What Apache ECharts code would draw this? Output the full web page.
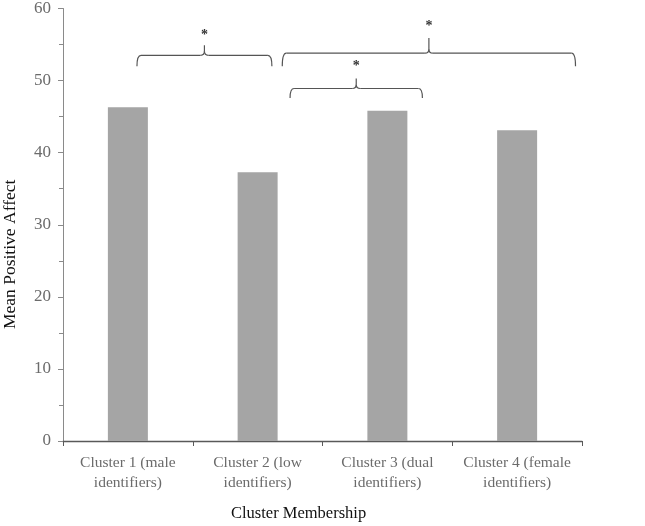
<!DOCTYPE html>
<html><head><meta charset="utf-8">
<script src="https://cdn.jsdelivr.net/npm/echarts@6/dist/echarts.min.js"></script>
<style>html,body{margin:0;padding:0;background:#fff}#c{width:645px;height:526px}</style>
</head><body><div id="c"></div>
<script>
const categories = ['Cluster 1 (male\nidentifiers)', 'Cluster 2 (low\nidentifiers)', 'Cluster 3 (dual\nidentifiers)', 'Cluster 4 (female\nidentifiers)'];
const meanPositiveAffect = [46.3, 37.3, 45.8, 43.1];
// brackets: [xStart, xEnd, xPeak, yEnds, yBar, yPeak, yStar]
const brackets = [
  [0.07, 1.11, 0.59, 52.0, 53.5, 54.9, 56.3],
  [1.19, 3.45, 2.32, 52.0, 53.8, 55.9, 57.5],
  [1.25, 2.27, 1.76, 47.6, 48.9, 50.3, 51.9]
];
const yTicks = [0, 10, 20, 30, 40, 50, 60];

const chart = echarts.init(document.getElementById('c'));
const serif = 'Liberation Serif';
chart.setOption({
  animation: false,
  grid: {left: 63, right: 63, top: 7, bottom: 85},
  xAxis: [{
    type: 'category', data: categories,
    axisLine: {lineStyle: {color: '#595959', width: 1.3}},
    axisTick: {show: true, length: 5, lineStyle: {color: '#595959'}},
    axisLabel: {fontFamily: serif, fontSize: 15.5, color: '#6b6b6b', lineHeight: 20, margin: 12, interval: 0}
  }, {
    type: 'value', min: -0.5, max: 3.5, show: false
  }],
  yAxis: {
    type: 'value', min: 0, max: yTicks[yTicks.length - 1], interval: 10,
    axisLine: {show: true, onZero: false, lineStyle: {color: '#8a8a8a'}},
    axisTick: {show: true, length: 5, lineStyle: {color: '#8a8a8a'}},
    minorTick: {show: true, splitNumber: 2, length: 4, lineStyle: {color: '#8a8a8a'}},
    splitLine: {show: false},
    axisLabel: {fontFamily: serif, fontSize: 17, color: '#6b6b6b', margin: 12}
  },
  graphic: [
    {type: 'text', left: 231, top: 505, style: {text: 'Cluster Membership', font: '16.5px "Liberation Serif"', fill: '#111'}},
    {type: 'text', x: 1, y: 329, rotation: Math.PI / 2, style: {text: 'Mean Positive Affect', font: '17.5px "Liberation Serif"', fill: '#111'}}
  ],
  series: [{
    type: 'bar', data: meanPositiveAffect, barWidth: 40,
    itemStyle: {color: '#a5a5a5'}
  }, {
    type: 'custom', xAxisIndex: 1, yAxisIndex: 0, data: brackets,
    renderItem: function (params, api) {
      const x1 = api.value(0), x2 = api.value(1), xm = api.value(2);
      const ye = api.value(3), yb = api.value(4), yp = api.value(5), ys = api.value(6);
      const A = api.coord([x1, ye]), B = api.coord([x1, yb]);
      const C = api.coord([x2, ye]);
      const M = api.coord([xm, yb]), P = api.coord([xm, yp]), S = api.coord([xm, ys]);
      const r = 4;
      const st = {stroke: '#555', lineWidth: 1.2, fill: null};
      const by = B[1];
      return {type: 'group', children: [
        {type: 'bezierCurve', shape: {x1: A[0], y1: A[1], cpx1: A[0], cpy1: by, x2: A[0] + r, y2: by}, style: st},
        {type: 'line', shape: {x1: A[0] + r, y1: by, x2: M[0] - r, y2: by}, style: st},
        {type: 'bezierCurve', shape: {x1: M[0] - r, y1: by, cpx1: M[0], cpy1: by, x2: M[0], y2: by - r}, style: st},
        {type: 'line', shape: {x1: M[0], y1: by - r, x2: P[0], y2: P[1]}, style: st},
        {type: 'bezierCurve', shape: {x1: M[0] + r, y1: by, cpx1: M[0], cpy1: by, x2: M[0], y2: by - r}, style: st},
        {type: 'line', shape: {x1: M[0] + r, y1: by, x2: C[0] - r, y2: by}, style: st},
        {type: 'bezierCurve', shape: {x1: C[0] - r, y1: by, cpx1: C[0], cpy1: by, x2: C[0], y2: C[1]}, style: st},
        {type: 'text', x: S[0], y: S[1], style: {text: '*', font: 'bold 14px "Liberation Serif"', fill: '#333', align: 'center', verticalAlign: 'middle'}}
      ]};
    }
  }]
});
</script></body></html>
